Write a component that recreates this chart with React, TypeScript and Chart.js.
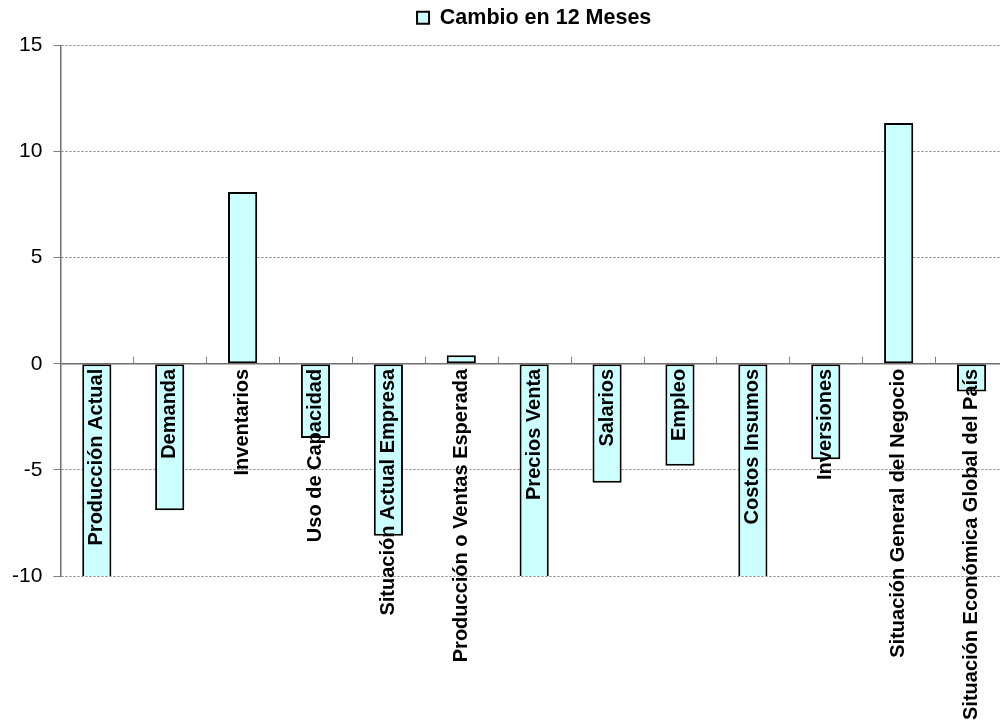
import { useEffect, useRef } from 'react';
import { Chart, registerables } from 'chart.js';

Chart.register(...registerables);

const categories = [
  'Producción Actual',
  'Demanda',
  'Inventarios',
  'Uso de Capacidad',
  'Situación Actual Empresa',
  'Producción o Ventas Esperada',
  'Precios Venta',
  'Salarios',
  'Empleo',
  'Costos Insumos',
  'Inversiones',
  'Situación General del Negocio',
  'Situación Económica Global del País',
];

// bars below -10 are cut off by the axis in the original
const cambio12Meses = [-11.8, -6.9, 8.1, -3.5, -8.1, 0.4, -12.4, -5.6, -4.8, -10.9, -4.5, 11.35, -1.3];

const yMin = -10;
const yMax = 15;
const yStep = 5;

const FONT = '"Liberation Sans", Arial, sans-serif';

// small upward tick marks on the zero axis between categories
const categoryTicks = {
  id: 'categoryTicks',
  afterDatasetsDraw(chart: Chart) {
    const x = chart.scales.x;
    const y = chart.scales.y;
    const y0 = y.getPixelForValue(0);
    const ctx = chart.ctx;
    ctx.save();
    ctx.strokeStyle = '#808080';
    ctx.lineWidth = 1;
    ctx.beginPath();
    for (let i = 0; i < categories.length; i++) {
      const px = i < categories.length - 1
        ? (x.getPixelForValue(i) + x.getPixelForValue(i + 1)) / 2
        : chart.chartArea.right;
      ctx.moveTo(Math.round(px) + 0.5, y0 - 7);
      ctx.lineTo(Math.round(px) + 0.5, y0);
    }
    ctx.stroke();
    ctx.restore();
  },
};

// a bit more room under the legend
const legendGap = {
  id: 'legendGap',
  beforeInit(chart: any) {
    const legend = chart.legend;
    if (!legend) return;
    const fit = legend.fit;
    legend.fit = function () {
      fit.call(this);
      this.height += 7;
    };
  },
};

export default function App() {
  const canvasRef = useRef<HTMLCanvasElement>(null);
  const chartRef = useRef<Chart | null>(null);

  useEffect(() => {
    document.body.style.margin = '0';
    document.body.style.overflow = 'hidden';
    if (!canvasRef.current) return;
    if (chartRef.current) chartRef.current.destroy();

    chartRef.current = new Chart(canvasRef.current, {
      type: 'bar',
      data: {
        labels: categories,
        datasets: [
          {
            label: 'Cambio en 12 Meses',
            data: cambio12Meses,
            backgroundColor: '#CCFFFF',
            borderColor: '#000000',
            borderWidth: 2,
            borderSkipped: false,
            barPercentage: 0.4,
            categoryPercentage: 1,
          },
        ],
      },
      options: {
        responsive: true,
        maintainAspectRatio: false,
        animation: false,
        layout: { padding: { left: 1, right: 0, top: 1, bottom: 149 } },
        plugins: {
          legend: {
            display: true,
            position: 'top',
            fullSize: false,
            labels: {
              color: '#000',
              font: { family: FONT, size: 21.5, weight: 'bold' },
              boxWidth: 12,
              boxHeight: 12,
              padding: 6,
            },
          },
          tooltip: { enabled: false },
        },
        scales: {
          x: {
            position: { y: 0 },
            grid: { display: true, drawOnChartArea: false, drawTicks: false },
            border: { display: true, color: '#707070', width: 1.5, z: 1 },
            ticks: {
              autoSkip: false,
              minRotation: 90,
              maxRotation: 90,
              padding: 5,
              z: 2,
              color: '#000',
              font: { family: FONT, size: 20, weight: 'bold' },
            },
          },
          y: {
            min: yMin,
            max: yMax,
            grid: { color: '#808080', lineWidth: 1, tickLength: 7 },
            border: { display: true, color: '#707070', width: 1.5, dash: [2, 2] },
            ticks: {
              stepSize: yStep,
              padding: 11,
              color: '#000',
              font: { family: FONT, size: 21 },
            },
          },
        },
      },
      plugins: [categoryTicks, legendGap],
    });

    return () => {
      if (chartRef.current) chartRef.current.destroy();
      chartRef.current = null;
    };
  }, []);

  return (
    <div style={{ width: '1008px', height: '725px', position: 'relative' }}>
      <canvas ref={canvasRef} />
    </div>
  );
}
